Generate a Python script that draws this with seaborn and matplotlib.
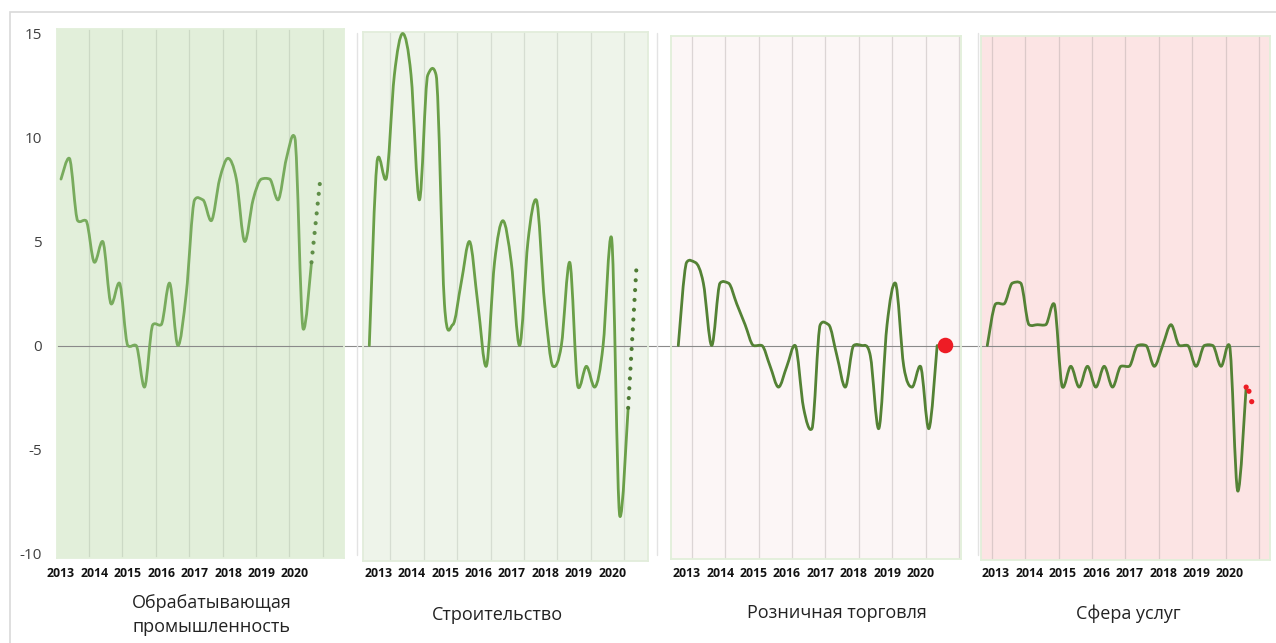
import numpy as np
import matplotlib
matplotlib.use("Agg")
import matplotlib.pyplot as plt
import seaborn as sns
from matplotlib.path import Path
from matplotlib.patches import PathPatch, Rectangle
from matplotlib.lines import Line2D

# ---- data (quarterly values, 2013 Q1 onwards) ----
years = ["2013", "2014", "2015", "2016", "2017", "2018", "2019", "2020"]
titles = ["Обрабатывающая\nпромышленность", "Строительство",
          "Розничная торговля", "Сфера услуг"]

manufacturing = [8, 9, 6, 6, 4, 5, 2, 3, 0, 0, -2, 1, 1, 3, 0, 2.5,
                 7, 7, 6, 8, 9, 8, 5, 7, 8, 8, 7, 9, 10, 0.8, 4]
manufacturing_next = [4, 7.8]

construction = [0, 9, 8, 13, 15, 13, 7, 13, 13, 2, 1, 3, 5, 2, -1, 4,
                6, 4, 0, 5, 7, 2, -1, 0, 4, -2, -1, -2, 0, 5.2, -8.2, -3]
construction_next = [-3, 3.8]

retail = [0, 4, 4, 3, 0, 3, 3, 2, 1, 0, 0, -1, -2, -1, 0, -3,
          -4, 1, 1, -0.5, -2, 0, 0, -0.5, -4, 1, 3, -1, -2, -1, -4, 0]
retail_next = [0]

services = [0, 2, 2, 3, 3, 1, 1, 1, 2, -2, -1, -2, -1, -2, -1, -2,
            -1, -1, 0, 0, -1, 0, 1, 0, 0, -1, 0, 0, -1, 0, -7, -2]
services_months = [0, 1, 2]
services_monthly = [-2.0, -2.2, -2.7]

# ---- layout (pixels of the 1276x643 canvas) ----
W, H = 1276, 643
PX_YEAR = 33.4
PX_UNIT = 20.8
ZERO_Y = 345.5

panels = [
    dict(x0=61, left=57, right=344, top=29, bottom=558, grid0=89, ngrid=8, label0=61,
         bg="#E2EFDA", edge="#E2EFDA", grid="#CCD9C5", line="#78AB5D", title_x=212, title_y=615),
    dict(x0=369.3, left=363, right=648, top=32, bottom=561, grid0=390.3, ngrid=8, label0=378.3,
         bg="#EEF4EA", edge="#E2EDDB", grid="#D6DDD2", line="#6A9F48", title_x=497, title_y=615),
    dict(x0=678.3, left=671, right=961, top=36, bottom=559, grid0=691.7, ngrid=9, label0=686.7,
         bg="#FCF6F6", edge="#E2EFDA", grid="#DCD5D5", line="#548235", title_x=837, title_y=613),
    dict(x0=987.3, left=981, right=1270, top=36, bottom=560, grid0=991.7, ngrid=9, label0=996,
         bg="#FCE4E4", edge="#E2EFDA", grid="#DCC9C9", line="#548235", title_x=1128, title_y=614),
]
zero_ends = [363, 671, 981, 1259]

sns.set_theme(style="white")
plt.rcParams["font.family"] = ["Open Sans", "DejaVu Sans"]

fig = plt.figure(figsize=(W / 100, H / 100), dpi=100)
fig.patch.set_facecolor("white")


def smooth_line(ax, xs, ys, color, lw):
    # smoothed line like Excel: cubic Bezier segments through every point,
    # softer tangent where a point is a local peak/trough
    pts = np.column_stack([xs, ys]).astype(float)
    n = len(pts)
    tang = np.zeros_like(pts)
    for i in range(n):
        a = pts[max(i - 1, 0)]
        b = pts[min(i + 1, n - 1)]
        tang[i] = (b - a) / 6
        y = pts[i, 1]
        if 0 < i < n - 1 and (y - a[1]) * (b[1] - y) <= 0:
            tang[i, 1] *= 0.3
    verts = [pts[0]]
    codes = [Path.MOVETO]
    for i in range(n - 1):
        verts += [pts[i] + tang[i], pts[i + 1] - tang[i + 1], pts[i + 1]]
        codes += [Path.CURVE4] * 3
    patch = PathPatch(Path(verts, codes), fill=False, edgecolor=color, lw=lw,
                      capstyle="round", joinstyle="round", zorder=3)
    ax.add_patch(patch)


series = [manufacturing, construction, retail, services]
axes = []
for k, (p, vals) in enumerate(zip(panels, series)):
    ax = fig.add_axes([p["left"] / W, 1 - p["bottom"] / H,
                       (p["right"] - p["left"]) / W, (p["bottom"] - p["top"]) / H])
    axes.append(ax)
    ax.set_facecolor(p["bg"])
    ax.set_xlim((p["left"] - p["x0"]) / PX_YEAR, (p["right"] - p["x0"]) / PX_YEAR)
    ax.set_ylim((ZERO_Y - p["bottom"]) / PX_UNIT, (ZERO_Y - p["top"]) / PX_UNIT)

    for s in ax.spines.values():
        s.set_color(p["edge"])
        s.set_linewidth(1.3)

    # vertical gridlines between years
    grid_x = (p["grid0"] - p["x0"]) / PX_YEAR + np.arange(p["ngrid"])
    ax.set_xticks(grid_x, minor=True)
    ax.grid(which="minor", axis="x", color=p["grid"], lw=0.9, zorder=1)
    ax.grid(which="major", visible=False)
    ax.set_axisbelow(True)

    # year labels
    label_x = (p["label0"] - p["x0"]) / PX_YEAR + np.arange(len(years))
    ax.set_xticks(label_x)
    ax.set_xticklabels(years, fontsize=8.8, fontweight="bold", color="#111111")
    pad_px = 572.7 - 5.5 - p["bottom"]
    ax.tick_params(axis="x", which="both", length=0, pad=pad_px * 0.72)

    if k == 0:
        ax.set_yticks([-10, -5, 0, 5, 10, 15])
        ax.set_yticklabels(["-10", "-5", "0", "5", "10", "15"], fontsize=11, color="#404040")
        ax.tick_params(axis="y", length=0, pad=11)
    else:
        ax.set_yticks([])

    # zero line, carried across the white gap to the next panel
    ax.axhline(0, xmin=0, xmax=(zero_ends[k] - p["left"]) / (p["right"] - p["left"]),
               color="#8A8A8A", lw=0.8, clip_on=False, zorder=2)

    q = np.arange(len(vals)) * 0.25
    smooth_line(ax, q, vals, p["line"], 2.0)

    fig.text(p["title_x"] / W, 1 - p["title_y"] / H, titles[k], ha="center", va="center",
             fontsize=13, color="#222222", linespacing=1.4)

# dotted continuation lines
dot_style = dict(linestyle=(0, (0.01, 2.35)), dash_capstyle="round", lw=3.0, zorder=4)
n1 = len(manufacturing) - 1
sns.lineplot(x=(np.arange(len(manufacturing_next)) + n1) * 0.25, y=manufacturing_next,
             ax=axes[0], color="#5F8E47", **dot_style)
n2 = len(construction) - 1
sns.lineplot(x=(np.arange(len(construction_next)) + n2) * 0.25, y=construction_next,
             ax=axes[1], color="#4E7B34", **dot_style)

# red latest points
sns.scatterplot(x=[len(retail) * 0.25], y=retail_next, ax=axes[2], color="#EE1C25",
                s=125, edgecolor="none", zorder=5)
sns.scatterplot(x=(len(services) - 1) * 0.25 + np.array(services_months) / 12, y=services_monthly,
                ax=axes[3], color="#EE1C25", s=14, edgecolor="none", zorder=5)

# faint separators between the panels and outer frame
for xs in [357, 657, 978]:
    fig.add_artist(Line2D([xs / W, xs / W], [1 - 33 / H, 1 - 555 / H], color="#E3E3E3", lw=1))
fig.add_artist(Rectangle((10 / W, -0.05), 1.2, 1 - 12 / H + 0.05, transform=fig.transFigure,
                         fill=False, edgecolor="#D9D9D9", lw=1.2))

fig.savefig("out.png", dpi=100)
